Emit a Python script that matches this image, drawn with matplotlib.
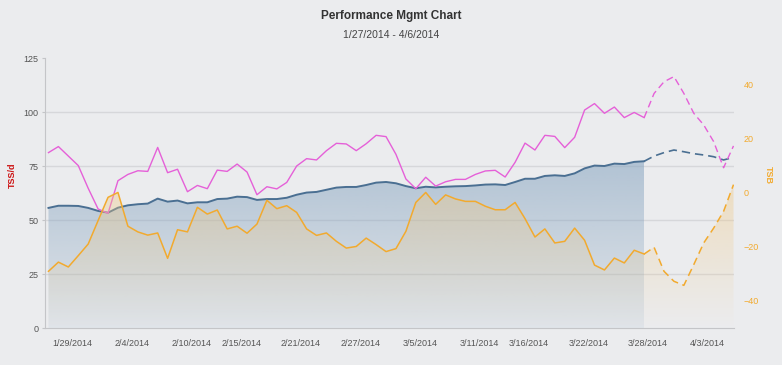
import numpy as np
import pandas as pd
import matplotlib
matplotlib.use("Agg")
import matplotlib.pyplot as plt
from matplotlib.colors import to_rgb
from matplotlib.transforms import ScaledTranslation

plt.rcParams['font.family'] = ['Liberation Sans', 'DejaVu Sans']

###############################################################################
# Data
###############################################################################
start = "2014-01-27"
dates = pd.date_range(start, "2014-04-06", freq="D")
last_actual = "2014-03-28"   # after this day the values are projected

# ATL (fatigue), left axis
fatigue = [81.2, 84.0, 79.6, 75.2, 64.7, 55.1, 53.1, 68.2, 71.1, 72.8,
           72.5, 83.6, 71.9, 73.5, 63.1, 66.0, 64.5, 73.1, 72.5, 75.9,
           72.2, 61.7, 65.4, 64.4, 67.4, 75.0, 78.4, 77.8, 82.1, 85.5,
           85.2, 82.1, 85.3, 89.2, 88.6, 80.4, 69.0, 64.5, 69.8, 65.7,
           67.7, 68.8, 68.8, 71.1, 72.7, 73.0, 69.9, 76.7, 85.6, 82.4,
           89.2, 88.7, 83.5, 88.3, 100.9, 103.9, 99.4, 102.3, 97.4, 99.8,
           97.4, 108.6, 114.0, 116.4, 108.6, 99.4, 94.0, 86.3, 74.2, 84.3]

# CTL (fitness), left axis
fitness = [55.6, 56.6, 56.6, 56.5, 55.6, 54.2, 53.4, 55.7, 56.8, 57.3,
           57.6, 59.9, 58.5, 59.0, 57.7, 58.2, 58.2, 59.7, 59.9, 60.8,
           60.6, 59.3, 59.7, 59.7, 60.3, 61.7, 62.7, 63.0, 64.0, 65.0,
           65.3, 65.3, 66.2, 67.3, 67.6, 67.0, 65.7, 64.7, 65.4, 65.1,
           65.4, 65.6, 65.7, 66.0, 66.4, 66.5, 66.2, 67.6, 69.1, 69.1,
           70.4, 70.7, 70.4, 71.6, 73.9, 75.2, 75.0, 76.1, 75.9, 76.9,
           77.2, 79.6, 81.2, 82.4, 81.6, 80.7, 80.1, 79.3, 77.8, 79.0]

# TSB (form), right axis
form = [-29.0, -25.6, -27.4, -23.2, -18.9, -10.2, -1.6, 0.2, -12.3, -14.4,
        -15.6, -14.8, -24.2, -13.6, -14.4, -5.3, -7.8, -6.3, -13.3, -12.3,
        -14.9, -11.5, -2.7, -5.8, -4.7, -7.2, -13.3, -15.7, -14.8, -17.9,
        -20.4, -19.8, -16.7, -19.1, -21.7, -20.6, -14.2, -3.5, 0.2, -4.2,
        -0.7, -2.2, -3.1, -3.1, -4.9, -6.2, -6.2, -3.5, -9.5, -16.3,
        -13.3, -18.5, -17.9, -13.0, -17.5, -26.7, -28.5, -24.1, -25.9, -21.2,
        -22.6, -20.1, -29.0, -32.7, -34.2, -26.5, -18.5, -13.0, -6.8, 3.1]

tick_labels = ["1/29/2014", "2/4/2014", "2/10/2014", "2/15/2014", "2/21/2014",
               "2/27/2014", "3/5/2014", "3/11/2014", "3/16/2014", "3/22/2014",
               "3/28/2014", "4/3/2014"]
left_ticks = [0, 25, 50, 75, 100, 125]
right_ticks = [-40, -20, 0, 20, 40]

###############################################################################
# Styles
###############################################################################
bg = "#ebecee"
pink = "#e560d8"
blue = "#4a6f92"
blue_fill = "#7f9fbd"
orange = "#f2aa2e"
orange_fill = "#f0c985"
grid_c = "#d6d7da"
axis_c = "#c4c5c8"
text_c = "#555555"


def gradient_fill(ax, x, y, y0, y1, color, a_top, a_bot, zorder):
    poly = ax.fill_between(x, y, y0, facecolor="none", edgecolor="none")
    rgba = np.zeros((256, 1, 4))
    rgba[..., :3] = to_rgb(color)
    rgba[..., 3] = np.linspace(a_bot, a_top, 256)[:, None]
    im = ax.imshow(rgba, aspect="auto", origin="lower", interpolation="bilinear",
                   extent=[x[0], x[-1], y0, y1], zorder=zorder)
    im.set_clip_path(poly.get_paths()[0], transform=ax.transData)


day = np.arange(len(dates))
na = int((pd.Timestamp(last_actual) - pd.Timestamp(start)).days) + 1
fatigue = np.array(fatigue)
fitness = np.array(fitness)
form = np.array(form)

fig = plt.figure(figsize=(7.82, 3.65), dpi=100, facecolor=bg)
ax = fig.add_axes([45 / 782, 37 / 365, 689 / 782, 270 / 365])
ax.set_facecolor(bg)
ax2 = ax.twinx()

# fitness area + lines (left axis)
gradient_fill(ax, day[:na], fitness[:na], 0, 125, blue_fill, 0.8, 0.1, 1)
ax.plot(day[:na], fitness[:na], color=blue, lw=1.4, zorder=3)
ax.plot(day[na - 1:], fitness[na - 1:], color=blue, lw=1.2, ls=(0, (5, 3)), zorder=3)
ax.plot(day[:na], fatigue[:na], color=pink, lw=1.0, zorder=3)
ax.plot(day[na - 1:], fatigue[na - 1:], color=pink, lw=1.0, ls=(0, (5, 3)), zorder=3)

# form area + line (right axis)
gradient_fill(ax2, day, form, -50, 50, orange_fill, 0.8, 0.0, 1)
ax2.plot(day[:na], form[:na], color=orange, lw=1.1, zorder=3)
ax2.plot(day[na - 1:], form[na - 1:], color=orange, lw=1.1, ls=(0, (5, 3)), zorder=3)

ax.set_xlim(-0.35, 69.05)
ax.set_ylim(0, 125)
ax2.set_ylim(-50, 50)

# left axis
ax.set_yticks(left_ticks)
for v in left_ticks[1:-1]:
    ax.axhline(v, color=grid_c, lw=1.0, zorder=0.5)
ax.tick_params(axis="y", labelsize=6.5, labelcolor=text_c, color=axis_c,
               length=2.5, width=0.8, pad=2)
# x axis
tick_pos = [(pd.Timestamp(t) - pd.Timestamp(start)).days for t in tick_labels]
ax.set_xticks(tick_pos)
ax.set_xticklabels(tick_labels)
ax.tick_params(axis="x", labelsize=6.5, labelcolor=text_c, length=0, pad=8)
shift = ScaledTranslation(4 / 100, 0, fig.dpi_scale_trans)
for lab in ax.get_xticklabels():
    lab.set_transform(lab.get_transform() + shift)
# right axis
ax2.set_yticks(right_ticks)
ax2.tick_params(axis="y", labelsize=6.5, labelcolor=orange, length=0, pad=7)

for a in (ax, ax2):
    a.spines["top"].set_visible(False)
    a.spines["right"].set_visible(False)
    a.spines["left"].set_color(axis_c)
    a.spines["bottom"].set_color(axis_c)
ax2.spines["left"].set_visible(False)
ax2.spines["bottom"].set_visible(False)

fig.text(0.5, 1 - 16 / 365, "Performance Mgmt Chart", ha="center", va="center",
         fontsize=8.5, weight="bold", color="#333333")
fig.text(0.5, 1 - 35 / 365, "1/27/2014 - 4/6/2014", ha="center", va="center",
         fontsize=7.5, color="#444444")
fig.text(12 / 782, 1 - 175 / 365, "TSS/d", rotation=90, ha="center", va="center",
         fontsize=6.5, weight="bold", color="#cc1111")
fig.text(768 / 782, 1 - 175 / 365, "TSB", rotation=270, ha="center", va="center",
         fontsize=6.5, weight="bold", color=orange)

plt.savefig("out.png", dpi=100, facecolor=bg)
